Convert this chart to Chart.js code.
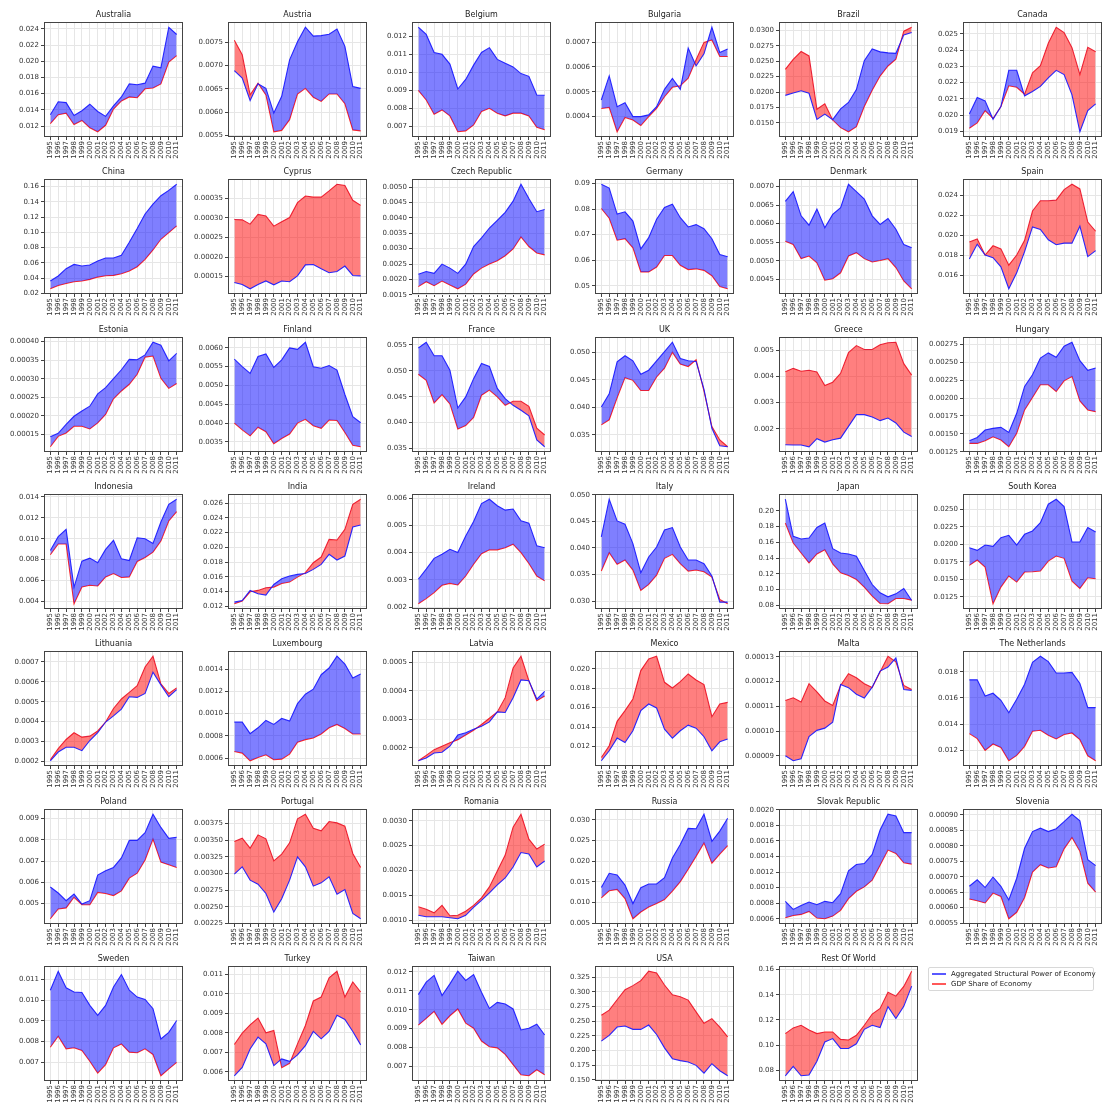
<!DOCTYPE html>
<html lang="en">
<head>
  <meta charset="UTF-8" />
  <title>Structural power vs GDP share, 1995-2011</title>
  <script src="https://cdn.jsdelivr.net/npm/chart.js"></script>
  <style>
    body { margin: 0; background: #fff; font-family: "DejaVu Sans", sans-serif; }
    #wrap { position: relative; width: 1103px; height: 1108px; overflow: hidden; }
    #wrap canvas { position: absolute; }
    #legend {
      position: absolute; left: 928px; top: 967px; width: 164px; height: 21px;
      border: 1px solid #d8d8d8; border-radius: 2px; background: #fff;
      font-size: 7px; color: #222; padding-top: 1px;
    }
    #legend .item { height: 10px; line-height: 10px; white-space: nowrap; }
    #legend .swatch { display: inline-block; width: 14px; height: 2px; vertical-align: middle; margin: 0 5px 0 3px; }
  </style>
</head>
<body>
  <div id="wrap">
    <div id="legend">
      <div class="item"><span class="swatch" style="background: rgba(60,60,255,0.85)"></span>Aggregated Structural Power of Economy</div>
      <div class="item"><span class="swatch" style="background: rgba(255,60,60,0.85)"></span>GDP Share of Economy</div>
    </div>
  </div>

  <script>
    const years = [1995, 1996, 1997, 1998, 1999, 2000, 2001, 2002, 2003, 2004, 2005, 2006, 2007, 2008, 2009, 2010, 2011];

    // power = aggregated structural power, gdp = GDP share, ticks = y tick labels
    const australiaPower = [0.0134, 0.0150, 0.0149, 0.0133, 0.0139, 0.0147, 0.0138, 0.0132, 0.0145, 0.0156, 0.0172, 0.0171, 0.0173, 0.0194, 0.0192, 0.0242, 0.0233];
    const australiaGdp = [0.0123, 0.0134, 0.0136, 0.0122, 0.0127, 0.0118, 0.0113, 0.0121, 0.0141, 0.0151, 0.0156, 0.0155, 0.0166, 0.0167, 0.0172, 0.0199, 0.0207];
    const australiaTicks = ['0.012', '0.014', '0.016', '0.018', '0.020', '0.022', '0.024'];

    const austriaPower = [0.00689, 0.00673, 0.00625, 0.00661, 0.00651, 0.00598, 0.00634, 0.00712, 0.00751, 0.00782, 0.00763, 0.00764, 0.00767, 0.00778, 0.00741, 0.00655, 0.00651];
    const austriaGdp = [0.00754, 0.00723, 0.00637, 0.00662, 0.00637, 0.00558, 0.00561, 0.00584, 0.00639, 0.00651, 0.00632, 0.00623, 0.00639, 0.00639, 0.00618, 0.00562, 0.00560];
    const austriaTicks = ['0.0055', '0.0060', '0.0065', '0.0070', '0.0075'];

    const belgiumPower = [0.0125, 0.0121, 0.0111, 0.0110, 0.01046, 0.00908, 0.00961, 0.0104, 0.0111, 0.01137, 0.01072, 0.0105, 0.0103, 0.00993, 0.00978, 0.00875, 0.00873];
    const belgiumGdp = [0.0090, 0.00847, 0.00768, 0.00792, 0.00759, 0.00671, 0.00676, 0.00709, 0.00783, 0.00801, 0.00774, 0.00759, 0.00774, 0.00774, 0.00759, 0.00696, 0.00682];
    const belgiumTicks = ['0.007', '0.008', '0.009', '0.010', '0.011', '0.012'];

    const bulgariaPower = [0.000467, 0.000564, 0.00044, 0.000456, 0.0004, 0.0004, 0.000407, 0.00044, 0.00051, 0.000554, 0.00051, 0.000676, 0.000604, 0.000653, 0.00076, 0.000658, 0.000672];
    const bulgariaGdp = [0.000433, 0.000437, 0.000339, 0.000397, 0.000386, 0.000364, 0.0004, 0.000433, 0.00048, 0.000518, 0.000524, 0.000555, 0.000629, 0.000699, 0.000709, 0.000642, 0.000642];
    const bulgariaTicks = ['0.0004', '0.0005', '0.0006', '0.0007'];

    const brazilPower = [0.01946, 0.01984, 0.0202, 0.0198, 0.01555, 0.0164, 0.0155, 0.01726, 0.0183, 0.0204, 0.0251, 0.0270, 0.02654, 0.02638, 0.0263, 0.0293, 0.0297];
    const brazilGdp = [0.02369, 0.02533, 0.0266, 0.02588, 0.0172, 0.0181, 0.01544, 0.0142, 0.01353, 0.01436, 0.01765, 0.0203, 0.0226, 0.02424, 0.02533, 0.0299, 0.03055];
    const brazilTicks = ['0.0150', '0.0175', '0.0200', '0.0225', '0.0250', '0.0275', '0.0300'];

    const canadaPower = [0.02007, 0.02109, 0.02088, 0.01975, 0.02053, 0.02276, 0.02276, 0.02119, 0.02146, 0.02177, 0.02229, 0.02276, 0.0225, 0.02125, 0.01898, 0.02028, 0.0207];
    const canadaGdp = [0.0192, 0.01953, 0.02028, 0.0198, 0.02053, 0.02181, 0.02172, 0.02129, 0.0226, 0.02305, 0.02442, 0.02541, 0.02508, 0.02415, 0.0225, 0.02417, 0.0239];
    const canadaTicks = ['0.019', '0.020', '0.021', '0.022', '0.023', '0.024', '0.025'];

    const chinaPower = [0.0362, 0.0428, 0.0524, 0.058, 0.0559, 0.0572, 0.0625, 0.0664, 0.0664, 0.0699, 0.087, 0.105, 0.124, 0.137, 0.148, 0.155, 0.163];
    const chinaGdp = [0.0261, 0.0305, 0.0331, 0.0353, 0.0362, 0.0384, 0.0414, 0.0432, 0.0436, 0.0458, 0.0493, 0.055, 0.0646, 0.0769, 0.0909, 0.0996, 0.1084];
    const chinaTicks = ['0.02', '0.04', '0.06', '0.08', '0.10', '0.12', '0.14', '0.16'];

    const cyprusPower = [0.000135, 0.00013, 0.000119, 0.00013, 0.000139, 0.000129, 0.000139, 0.000137, 0.000152, 0.00018, 0.000181, 0.00017, 0.00016, 0.000163, 0.000177, 0.000153, 0.000152];
    const cyprusGdp = [0.000296, 0.000295, 0.000284, 0.000309, 0.000305, 0.000279, 0.00029, 0.000301, 0.000339, 0.000356, 0.000353, 0.000353, 0.000369, 0.000386, 0.000383, 0.000345, 0.000332];
    const cyprusTicks = ['0.00015', '0.00020', '0.00025', '0.00030', '0.00035'];

    const czechPower = [0.00217, 0.00226, 0.0022, 0.0025, 0.00237, 0.0022, 0.0025, 0.00307, 0.00335, 0.00367, 0.00392, 0.00418, 0.00454, 0.00509, 0.00463, 0.0042, 0.00427];
    const czechGdp = [0.00177, 0.00193, 0.0018, 0.00195, 0.00182, 0.0017, 0.00185, 0.00218, 0.00237, 0.0025, 0.00261, 0.00277, 0.00299, 0.00338, 0.00307, 0.00286, 0.0028];
    const czechTicks = ['0.0015', '0.0020', '0.0025', '0.0030', '0.0035', '0.0040', '0.0045', '0.0050'];

    const germanyPower = [0.0897, 0.0882, 0.078, 0.0789, 0.0753, 0.0644, 0.0688, 0.076, 0.0806, 0.0819, 0.0766, 0.073, 0.0739, 0.0723, 0.0684, 0.0622, 0.0613];
    const germanyGdp = [0.0802, 0.0764, 0.0678, 0.0684, 0.0648, 0.0554, 0.0554, 0.0573, 0.0618, 0.0618, 0.058, 0.0563, 0.0566, 0.056, 0.0539, 0.0497, 0.0488];
    const germanyTicks = ['0.05', '0.06', '0.07', '0.08', '0.09'];

    const denmarkPower = [0.0066, 0.00686, 0.00621, 0.00596, 0.00639, 0.00589, 0.00625, 0.00643, 0.00706, 0.00686, 0.00666, 0.00621, 0.00598, 0.00614, 0.00585, 0.00544, 0.00535];
    const denmarkGdp = [0.00553, 0.00544, 0.00506, 0.00513, 0.00495, 0.00448, 0.00452, 0.00468, 0.00513, 0.00522, 0.00506, 0.00497, 0.00501, 0.00506, 0.00482, 0.00446, 0.00425];
    const denmarkTicks = ['0.0045', '0.0050', '0.0055', '0.0060', '0.0065', '0.0070'];

    const spainPower = [0.01762, 0.0191, 0.01802, 0.01775, 0.01684, 0.01465, 0.01624, 0.01836, 0.02082, 0.02056, 0.01954, 0.01904, 0.0192, 0.0192, 0.02089, 0.01786, 0.01846];
    const spainGdp = [0.01931, 0.01961, 0.01802, 0.01894, 0.01863, 0.01701, 0.01802, 0.01948, 0.02241, 0.02343, 0.02343, 0.02349, 0.02454, 0.02508, 0.02461, 0.0213, 0.02039];
    const spainTicks = ['0.016', '0.018', '0.020', '0.022', '0.024'];

    const estoniaPower = [0.000144, 0.000153, 0.000177, 0.000199, 0.000213, 0.000226, 0.000259, 0.000276, 0.0003, 0.000324, 0.000352, 0.000351, 0.000364, 0.000398, 0.00039, 0.000348, 0.000368];
    const estoniaGdp = [0.000117, 0.000145, 0.000154, 0.000172, 0.000172, 0.000165, 0.000181, 0.000204, 0.000246, 0.000267, 0.000285, 0.000312, 0.000358, 0.000361, 0.000301, 0.000274, 0.000287];
    const estoniaTicks = ['0.00015', '0.00020', '0.00025', '0.00030', '0.00035', '0.00040'];

    const finlandPower = [0.0057, 0.0055, 0.00532, 0.00577, 0.00584, 0.00548, 0.00568, 0.006, 0.00596, 0.00615, 0.0055, 0.00546, 0.00553, 0.00541, 0.00476, 0.00417, 0.00401];
    const finlandGdp = [0.004, 0.00382, 0.00366, 0.00389, 0.00377, 0.00345, 0.00359, 0.00371, 0.004, 0.0041, 0.00393, 0.00386, 0.00408, 0.00407, 0.00375, 0.00341, 0.00337];
    const finlandTicks = ['0.0035', '0.0040', '0.0045', '0.0050', '0.0055', '0.0060'];

    const francePower = [0.05441, 0.05552, 0.05292, 0.05292, 0.05011, 0.04282, 0.04497, 0.04849, 0.05142, 0.05083, 0.0466, 0.04464, 0.04334, 0.04237, 0.04132, 0.03663, 0.03533];
    const franceGdp = [0.04933, 0.04816, 0.0438, 0.04542, 0.0436, 0.03878, 0.03943, 0.041, 0.04529, 0.04627, 0.04497, 0.04334, 0.04412, 0.04412, 0.04314, 0.03891, 0.0376];
    const franceTicks = ['0.035', '0.040', '0.045', '0.050', '0.055'];

    const ukPower = [0.04009, 0.04247, 0.04829, 0.04939, 0.04847, 0.04602, 0.04676, 0.04847, 0.05012, 0.05184, 0.0489, 0.04847, 0.04835, 0.04327, 0.03622, 0.03305, 0.03286];
    const ukGdp = [0.03684, 0.03776, 0.04174, 0.04541, 0.04492, 0.04308, 0.04308, 0.04553, 0.04712, 0.05, 0.04786, 0.04743, 0.04865, 0.04296, 0.03654, 0.03409, 0.03286];
    const ukTicks = ['0.035', '0.040', '0.045', '0.050'];

    const greecePower = [0.00139, 0.00138, 0.00138, 0.00131, 0.00162, 0.00149, 0.00158, 0.00164, 0.00209, 0.00254, 0.00254, 0.00245, 0.00231, 0.00241, 0.00222, 0.00187, 0.0017];
    const greeceGdp = [0.00418, 0.00431, 0.0042, 0.00424, 0.00417, 0.00365, 0.00378, 0.00412, 0.00491, 0.00518, 0.00503, 0.00503, 0.00521, 0.00529, 0.00531, 0.00449, 0.00405];
    const greeceTicks = ['0.002', '0.003', '0.004', '0.005'];

    const hungaryPower = [0.001404, 0.00145, 0.001553, 0.001577, 0.001591, 0.001521, 0.001787, 0.002161, 0.002325, 0.002558, 0.002629, 0.002568, 0.002722, 0.002778, 0.002521, 0.002386, 0.002418];
    const hungaryGdp = [0.001367, 0.001367, 0.001404, 0.00146, 0.001414, 0.00132, 0.001507, 0.001834, 0.002007, 0.002185, 0.002185, 0.002091, 0.00224, 0.002301, 0.00196, 0.001834, 0.00181];
    const hungaryTicks = ['0.00125', '0.00150', '0.00175', '0.00200', '0.00225', '0.00250', '0.00275'];

    const indonesiaPower = [0.00888, 0.01019, 0.01089, 0.00537, 0.00786, 0.00815, 0.0077, 0.00898, 0.00984, 0.00808, 0.00792, 0.01009, 0.0100, 0.00955, 0.01159, 0.01328, 0.01376];
    const indonesiaGdp = [0.00847, 0.00949, 0.00949, 0.0038, 0.0054, 0.00556, 0.0055, 0.00636, 0.00668, 0.0063, 0.00636, 0.00783, 0.00821, 0.00872, 0.00977, 0.01169, 0.01258];
    const indonesiaTicks = ['0.004', '0.006', '0.008', '0.010', '0.012', '0.014'];

    const indiaPower = [0.01255, 0.01277, 0.01414, 0.01368, 0.0135, 0.01495, 0.01573, 0.01609, 0.01632, 0.01645, 0.017, 0.01768, 0.01905, 0.01827, 0.01882, 0.02277, 0.02305];
    const indiaGdp = [0.01232, 0.01268, 0.01395, 0.01414, 0.0145, 0.01459, 0.01509, 0.01527, 0.01595, 0.01655, 0.01791, 0.01868, 0.02109, 0.021, 0.02245, 0.02586, 0.02655];
    const indiaTicks = ['0.012', '0.014', '0.016', '0.018', '0.020', '0.022', '0.024', '0.026'];

    const irelandPower = [0.00302, 0.00339, 0.00379, 0.00394, 0.00412, 0.004, 0.00461, 0.00514, 0.0058, 0.00596, 0.00572, 0.00556, 0.0056, 0.00517, 0.00508, 0.00425, 0.00418];
    const irelandGdp = [0.00212, 0.00231, 0.00253, 0.0028, 0.00287, 0.00281, 0.00314, 0.00357, 0.00396, 0.0041, 0.0041, 0.00418, 0.00431, 0.004, 0.0036, 0.00314, 0.00296];
    const irelandTicks = ['0.002', '0.003', '0.004', '0.005', '0.006'];

    const italyPower = [0.04208, 0.04918, 0.04509, 0.04447, 0.04082, 0.03535, 0.0383, 0.04019, 0.0434, 0.04384, 0.04019, 0.03774, 0.03774, 0.03704, 0.03472, 0.02981, 0.02981];
    const italyGdp = [0.03566, 0.03912, 0.03692, 0.03774, 0.03585, 0.03201, 0.03314, 0.0349, 0.03805, 0.0388, 0.03704, 0.03566, 0.03585, 0.03553, 0.03453, 0.03031, 0.0295];
    const italyTicks = ['0.030', '0.035', '0.040', '0.045', '0.050'];

    const japanPower = [0.2147, 0.1676, 0.1642, 0.1655, 0.1789, 0.1844, 0.152, 0.1465, 0.1453, 0.1423, 0.1242, 0.1065, 0.096, 0.0909, 0.0947, 0.1015, 0.0863];
    const japanGdp = [0.1844, 0.1592, 0.1465, 0.1339, 0.1453, 0.1507, 0.1326, 0.1213, 0.1179, 0.1128, 0.1032, 0.0918, 0.0825, 0.0821, 0.0888, 0.0888, 0.0867];
    const japanTicks = ['0.08', '0.10', '0.12', '0.14', '0.16', '0.18', '0.20'];

    const koreaPower = [0.01951, 0.01913, 0.01989, 0.0197, 0.02094, 0.02128, 0.01989, 0.02142, 0.0219, 0.02309, 0.02572, 0.02643, 0.02538, 0.02032, 0.02032, 0.02238, 0.02176];
    const koreaGdp = [0.01698, 0.01775, 0.01674, 0.0115, 0.01388, 0.01546, 0.0146, 0.01603, 0.01608, 0.01617, 0.0176, 0.01832, 0.01799, 0.01474, 0.01369, 0.01522, 0.01508];
    const koreaTicks = ['0.0125', '0.0150', '0.0175', '0.0200', '0.0225', '0.0250'];

    const lithuaniaPower = [0.000203, 0.000247, 0.000271, 0.000271, 0.000254, 0.000305, 0.000344, 0.000398, 0.000429, 0.000463, 0.000525, 0.000522, 0.000542, 0.000649, 0.000585, 0.000525, 0.000561];
    const lithuaniaGdp = [0.000208, 0.000264, 0.00031, 0.000344, 0.000322, 0.000327, 0.000353, 0.000398, 0.000466, 0.000514, 0.000547, 0.000581, 0.000675, 0.000729, 0.00059, 0.000542, 0.00057];
    const lithuaniaTicks = ['0.0002', '0.0003', '0.0004', '0.0005', '0.0006', '0.0007'];

    const luxembourgPower = [0.000923, 0.000923, 0.00082, 0.000872, 0.000938, 0.000902, 0.000956, 0.000932, 0.001089, 0.001174, 0.001219, 0.001349, 0.001409, 0.001515, 0.001445, 0.001319, 0.001355];
    const luxembourgGdp = [0.00066, 0.000645, 0.000576, 0.000606, 0.00063, 0.000585, 0.000591, 0.000636, 0.000742, 0.000766, 0.000781, 0.000817, 0.000872, 0.000902, 0.000866, 0.000817, 0.000817];
    const luxembourgTicks = ['0.0006', '0.0008', '0.0010', '0.0012', '0.0014'];

    const latviaPower = [0.000155, 0.000165, 0.000182, 0.000185, 0.000206, 0.000245, 0.000253, 0.000265, 0.000276, 0.000291, 0.000326, 0.000324, 0.000376, 0.000438, 0.000435, 0.000371, 0.000398];
    const latviaGdp = [0.000155, 0.000174, 0.000194, 0.000206, 0.000218, 0.000229, 0.000245, 0.000262, 0.000282, 0.000304, 0.000326, 0.000376, 0.00048, 0.000521, 0.000435, 0.000365, 0.000382];
    const latviaTicks = ['0.0002', '0.0003', '0.0004', '0.0005'];

    const mexicoPower = [0.01052, 0.01155, 0.01286, 0.01241, 0.01362, 0.01569, 0.01638, 0.01597, 0.01379, 0.01286, 0.01362, 0.0142, 0.01389, 0.013, 0.01155, 0.01248, 0.01276];
    const mexicoGdp = [0.01086, 0.01207, 0.01459, 0.01569, 0.0169, 0.01983, 0.02103, 0.02131, 0.01862, 0.01803, 0.01869, 0.01948, 0.01886, 0.01838, 0.01507, 0.01638, 0.01655];
    const mexicoTicks = ['0.012', '0.014', '0.016', '0.018', '0.020'];

    const maltaPower = [0.00009, 0.000088, 0.0000888, 0.0000978, 0.0001003, 0.0001012, 0.0001036, 0.0001189, 0.0001176, 0.0001149, 0.0001134, 0.0001178, 0.0001243, 0.0001259, 0.0001296, 0.0001168, 0.0001165];
    const maltaGdp = [0.0001124, 0.0001135, 0.0001118, 0.0001192, 0.0001159, 0.0001122, 0.0001104, 0.0001185, 0.0001232, 0.0001216, 0.0001192, 0.0001176, 0.0001239, 0.0001303, 0.000128, 0.0001185, 0.0001168];
    const maltaTicks = ['0.00009', '0.00010', '0.00011', '0.00012', '0.00013'];

    const netherlandsPower = [0.01738, 0.01738, 0.01615, 0.01636, 0.01582, 0.01487, 0.0159, 0.01705, 0.01872, 0.01918, 0.01877, 0.0179, 0.0179, 0.01795, 0.0171, 0.01526, 0.01526];
    const netherlandsGdp = [0.01328, 0.0129, 0.012, 0.01249, 0.01223, 0.01121, 0.01162, 0.01231, 0.01346, 0.01354, 0.01315, 0.01287, 0.01321, 0.01333, 0.01282, 0.01159, 0.01121];
    const netherlandsTicks = ['0.012', '0.014', '0.016', '0.018'];

    const polandPower = [0.00578, 0.0055, 0.00514, 0.00545, 0.00498, 0.00514, 0.00634, 0.00655, 0.0067, 0.00715, 0.00797, 0.00797, 0.00833, 0.0092, 0.00858, 0.00807, 0.00812];
    const polandGdp = [0.00429, 0.00475, 0.0048, 0.0053, 0.00495, 0.00495, 0.00553, 0.00548, 0.00538, 0.0056, 0.0062, 0.00643, 0.00705, 0.00803, 0.00695, 0.00683, 0.0067];
    const polandTicks = ['0.005', '0.006', '0.007', '0.008', '0.009'];

    const portugalPower = [0.00299, 0.0031, 0.0029, 0.00284, 0.0027, 0.00242, 0.00262, 0.0029, 0.00325, 0.0031, 0.00281, 0.00286, 0.00295, 0.00269, 0.00276, 0.0024, 0.00232];
    const portugalGdp = [0.00348, 0.00353, 0.00338, 0.00358, 0.00352, 0.00319, 0.00329, 0.00346, 0.00382, 0.00389, 0.00368, 0.00364, 0.00378, 0.00376, 0.00371, 0.0033, 0.00309];
    const portugalTicks = ['0.00225', '0.00250', '0.00275', '0.00300', '0.00325', '0.00350', '0.00375'];

    const romaniaPower = [0.0011, 0.00107, 0.00107, 0.00107, 0.00105, 0.00103, 0.0011, 0.00126, 0.0014, 0.00155, 0.00171, 0.00185, 0.00207, 0.00236, 0.00233, 0.00207, 0.00219];
    const romaniaGdp = [0.00127, 0.00122, 0.00115, 0.0013, 0.00109, 0.0011, 0.00118, 0.0013, 0.00145, 0.00167, 0.00199, 0.00231, 0.00287, 0.00313, 0.00263, 0.00243, 0.00253];
    const romaniaTicks = ['0.0010', '0.0015', '0.0020', '0.0025', '0.0030'];

    const russiaPower = [0.01366, 0.01709, 0.01668, 0.01423, 0.00974, 0.01358, 0.01448, 0.01448, 0.01603, 0.02077, 0.02404, 0.02796, 0.02788, 0.03139, 0.02485, 0.0273, 0.03041];
    const russiaGdp = [0.01113, 0.01284, 0.01317, 0.01096, 0.00606, 0.0077, 0.00892, 0.00974, 0.01072, 0.01276, 0.01505, 0.01807, 0.02118, 0.02444, 0.01954, 0.02174, 0.02379];
    const russiaTicks = ['0.005', '0.010', '0.015', '0.020', '0.025', '0.030'];

    const slovakPower = [0.000824, 0.00072, 0.000772, 0.000815, 0.000781, 0.000824, 0.000807, 0.000923, 0.001216, 0.001298, 0.00131, 0.001427, 0.001741, 0.001944, 0.001922, 0.001707, 0.001707];
    const slovakGdp = [0.000613, 0.000643, 0.000656, 0.000695, 0.000609, 0.0006, 0.000634, 0.000708, 0.000859, 0.000953, 0.00101, 0.001095, 0.001289, 0.001483, 0.00144, 0.001319, 0.001302];
    const slovakTicks = ['0.0006', '0.0008', '0.0010', '0.0012', '0.0014', '0.0016', '0.0018', '0.0020'];

    const sloveniaPower = [0.000669, 0.00069, 0.000665, 0.000699, 0.000669, 0.000625, 0.000695, 0.000792, 0.000846, 0.000857, 0.000846, 0.000855, 0.000878, 0.000902, 0.000881, 0.000755, 0.000736];
    const sloveniaGdp = [0.000628, 0.000622, 0.000615, 0.000647, 0.000636, 0.000564, 0.000585, 0.000633, 0.000715, 0.000739, 0.000728, 0.000732, 0.00079, 0.000827, 0.000782, 0.000679, 0.00065];
    const sloveniaTicks = ['0.00055', '0.00060', '0.00065', '0.00070', '0.00075', '0.00080', '0.00085', '0.00090'];

    const swedenPower = [0.01048, 0.0114, 0.0106, 0.0104, 0.01037, 0.00975, 0.00927, 0.00975, 0.01064, 0.01124, 0.01048, 0.01015, 0.01004, 0.00959, 0.00813, 0.00845, 0.00902];
    const swedenGdp = [0.00773, 0.00826, 0.00765, 0.0077, 0.00757, 0.00705, 0.00648, 0.00689, 0.0077, 0.00789, 0.00749, 0.00746, 0.00765, 0.00738, 0.00635, 0.00668, 0.007];
    const swedenTicks = ['0.007', '0.008', '0.009', '0.010', '0.011'];

    const turkeyPower = [0.00579, 0.00622, 0.00717, 0.00778, 0.00743, 0.00631, 0.00666, 0.00653, 0.00686, 0.00734, 0.00807, 0.00769, 0.00807, 0.0089, 0.00869, 0.00807, 0.00738];
    const turkeyGdp = [0.0074, 0.00798, 0.00841, 0.00876, 0.008, 0.00812, 0.00621, 0.00643, 0.00743, 0.00838, 0.00964, 0.00984, 0.01083, 0.01117, 0.00984, 0.01062, 0.0101];
    const turkeyTicks = ['0.006', '0.007', '0.008', '0.009', '0.010', '0.011'];

    const taiwanPower = [0.0108, 0.01146, 0.01182, 0.01075, 0.01137, 0.01204, 0.01155, 0.01186, 0.01093, 0.01007, 0.01039, 0.0103, 0.01004, 0.00893, 0.00902, 0.00923, 0.00866];
    const taiwanGdp = [0.00918, 0.00954, 0.00991, 0.00923, 0.00968, 0.01004, 0.00929, 0.00902, 0.00834, 0.00804, 0.00798, 0.00763, 0.00709, 0.00655, 0.0065, 0.00682, 0.00655];
    const taiwanTicks = ['0.007', '0.008', '0.009', '0.010', '0.011', '0.012'];

    const usaPower = [0.216, 0.2257, 0.2401, 0.2418, 0.2361, 0.2361, 0.2435, 0.2274, 0.2045, 0.1861, 0.1827, 0.1804, 0.1747, 0.1615, 0.1775, 0.1655, 0.1569];
    const usaGdp = [0.2602, 0.2688, 0.2866, 0.3038, 0.3107, 0.3193, 0.3353, 0.3325, 0.3118, 0.2952, 0.2917, 0.286, 0.2659, 0.2464, 0.2544, 0.240, 0.2234];
    const usaTicks = ['0.150', '0.175', '0.200', '0.225', '0.250', '0.275', '0.300', '0.325'];

    const restPower = [0.0757, 0.0832, 0.0757, 0.0763, 0.0872, 0.1025, 0.1052, 0.0974, 0.0974, 0.1011, 0.1126, 0.1158, 0.114, 0.1306, 0.1212, 0.1308, 0.1469];
    const restGdp = [0.1092, 0.1137, 0.1158, 0.1121, 0.1092, 0.1105, 0.1105, 0.1046, 0.1041, 0.1078, 0.1158, 0.1247, 0.1292, 0.1421, 0.1389, 0.1466, 0.1587];
    const restTicks = ['0.08', '0.10', '0.12', '0.14', '0.16'];

    // grid order, row by row
    const panels = [
      ['Australia', australiaPower, australiaGdp, australiaTicks],
      ['Austria', austriaPower, austriaGdp, austriaTicks],
      ['Belgium', belgiumPower, belgiumGdp, belgiumTicks],
      ['Bulgaria', bulgariaPower, bulgariaGdp, bulgariaTicks],
      ['Brazil', brazilPower, brazilGdp, brazilTicks],
      ['Canada', canadaPower, canadaGdp, canadaTicks],
      ['China', chinaPower, chinaGdp, chinaTicks],
      ['Cyprus', cyprusPower, cyprusGdp, cyprusTicks],
      ['Czech Republic', czechPower, czechGdp, czechTicks],
      ['Germany', germanyPower, germanyGdp, germanyTicks],
      ['Denmark', denmarkPower, denmarkGdp, denmarkTicks],
      ['Spain', spainPower, spainGdp, spainTicks],
      ['Estonia', estoniaPower, estoniaGdp, estoniaTicks],
      ['Finland', finlandPower, finlandGdp, finlandTicks],
      ['France', francePower, franceGdp, franceTicks],
      ['UK', ukPower, ukGdp, ukTicks],
      ['Greece', greecePower, greeceGdp, greeceTicks],
      ['Hungary', hungaryPower, hungaryGdp, hungaryTicks],
      ['Indonesia', indonesiaPower, indonesiaGdp, indonesiaTicks],
      ['India', indiaPower, indiaGdp, indiaTicks],
      ['Ireland', irelandPower, irelandGdp, irelandTicks],
      ['Italy', italyPower, italyGdp, italyTicks],
      ['Japan', japanPower, japanGdp, japanTicks],
      ['South Korea', koreaPower, koreaGdp, koreaTicks],
      ['Lithuania', lithuaniaPower, lithuaniaGdp, lithuaniaTicks],
      ['Luxembourg', luxembourgPower, luxembourgGdp, luxembourgTicks],
      ['Latvia', latviaPower, latviaGdp, latviaTicks],
      ['Mexico', mexicoPower, mexicoGdp, mexicoTicks],
      ['Malta', maltaPower, maltaGdp, maltaTicks],
      ['The Netherlands', netherlandsPower, netherlandsGdp, netherlandsTicks],
      ['Poland', polandPower, polandGdp, polandTicks],
      ['Portugal', portugalPower, portugalGdp, portugalTicks],
      ['Romania', romaniaPower, romaniaGdp, romaniaTicks],
      ['Russia', russiaPower, russiaGdp, russiaTicks],
      ['Slovak Republic', slovakPower, slovakGdp, slovakTicks],
      ['Slovenia', sloveniaPower, sloveniaGdp, sloveniaTicks],
      ['Sweden', swedenPower, swedenGdp, swedenTicks],
      ['Turkey', turkeyPower, turkeyGdp, turkeyTicks],
      ['Taiwan', taiwanPower, taiwanGdp, taiwanTicks],
      ['USA', usaPower, usaGdp, usaTicks],
      ['Rest Of World', restPower, restGdp, restTicks]
    ];

    Chart.defaults.font.family = '"DejaVu Sans", sans-serif';

    // plot box geometry
    const BOX_W = 139, BOX_H = 115;
    const PAD_LEFT = 44, PAD_TOP = 14, PAD_BOTTOM = 32, PAD_RIGHT = 6;
    const COL_STEP = 183.8, ROW_STEP = 157.3;

    // frame around the plot area + subplot title
    const framePlugin = {
      id: 'frame',
      afterDraw(chart, args, opts) {
        const { ctx, chartArea: a } = chart;
        ctx.save();
        ctx.strokeStyle = '#444';
        ctx.lineWidth = 1;
        ctx.strokeRect(Math.round(a.left) + 0.5, Math.round(a.top) + 0.5, Math.round(a.right - a.left) - 1, Math.round(a.bottom - a.top) - 1);
        ctx.fillStyle = '#222';
        ctx.font = '8px "DejaVu Sans", sans-serif';
        ctx.textAlign = 'center';
        ctx.textBaseline = 'middle';
        ctx.fillText(opts.title, (a.left + a.right) / 2, a.top - 7);
        ctx.restore();
      }
    };

    function drawPanel(canvas, name, power, gdp, tickLabels) {
      const tickValues = tickLabels.map(Number);
      const all = power.concat(gdp);
      const lo = Math.min(...all), hi = Math.max(...all);
      const margin = (hi - lo) * 0.05;

      new Chart(canvas, {
        type: 'line',
        data: {
          datasets: [
            {
              label: 'Aggregated Structural Power of Economy',
              data: years.map((y, k) => ({ x: y, y: power[k] })),
              borderColor: 'rgba(20,20,255,0.9)',
              borderWidth: 1.1,
              pointRadius: 0,
              fill: { target: 1, above: 'rgba(0,0,255,0.5)', below: 'rgba(255,0,0,0.5)' }
            },
            {
              label: 'GDP Share of Economy',
              data: years.map((y, k) => ({ x: y, y: gdp[k] })),
              borderColor: 'rgba(255,20,20,0.9)',
              borderWidth: 1.1,
              pointRadius: 0,
              fill: false
            }
          ]
        },
        options: {
          responsive: false,
          animation: false,
          devicePixelRatio: 1,
          layout: { padding: { top: PAD_TOP, right: PAD_RIGHT, left: 0, bottom: 0 } },
          plugins: {
            legend: { display: false },
            tooltip: { enabled: false },
            frame: { title: name }
          },
          scales: {
            x: {
              type: 'linear',
              min: 1995 - 0.8,
              max: 2011 + 0.8,
              afterBuildTicks: s => { s.ticks = years.map(v => ({ value: v })); },
              afterFit: s => { s.height = PAD_BOTTOM; },
              ticks: {
                autoSkip: false, minRotation: 90, maxRotation: 90,
                font: { size: 7 }, color: '#333', padding: 1,
                callback: v => String(v)
              },
              grid: { color: '#e6e6e6', tickColor: '#444', tickLength: 3 },
              border: { display: false }
            },
            y: {
              min: lo - margin,
              max: hi + margin,
              afterBuildTicks: s => { s.ticks = tickValues.map(v => ({ value: v })); },
              afterFit: s => { s.width = PAD_LEFT; },
              ticks: {
                font: { size: 7 }, color: '#333', padding: 2,
                callback: (v, idx) => tickLabels[idx]
              },
              grid: { color: '#e6e6e6', tickColor: '#444', tickLength: 3 },
              border: { display: false }
            }
          }
        },
        plugins: [framePlugin]
      });
    }

    const wrap = document.getElementById('wrap');
    panels.forEach((p, i) => {
      const col = i % 6, row = Math.floor(i / 6);
      const boxLeft = Math.round(44 + col * COL_STEP);
      const boxTop = Math.round(22 + row * ROW_STEP);
      const canvas = document.createElement('canvas');
      canvas.width = PAD_LEFT + BOX_W + PAD_RIGHT;
      canvas.height = PAD_TOP + BOX_H + PAD_BOTTOM;
      canvas.style.left = (boxLeft - PAD_LEFT) + 'px';
      canvas.style.top = (boxTop - PAD_TOP) + 'px';
      wrap.insertBefore(canvas, wrap.firstChild);
      drawPanel(canvas, p[0], p[1], p[2], p[3]);
    });
  </script>
</body>
</html>
